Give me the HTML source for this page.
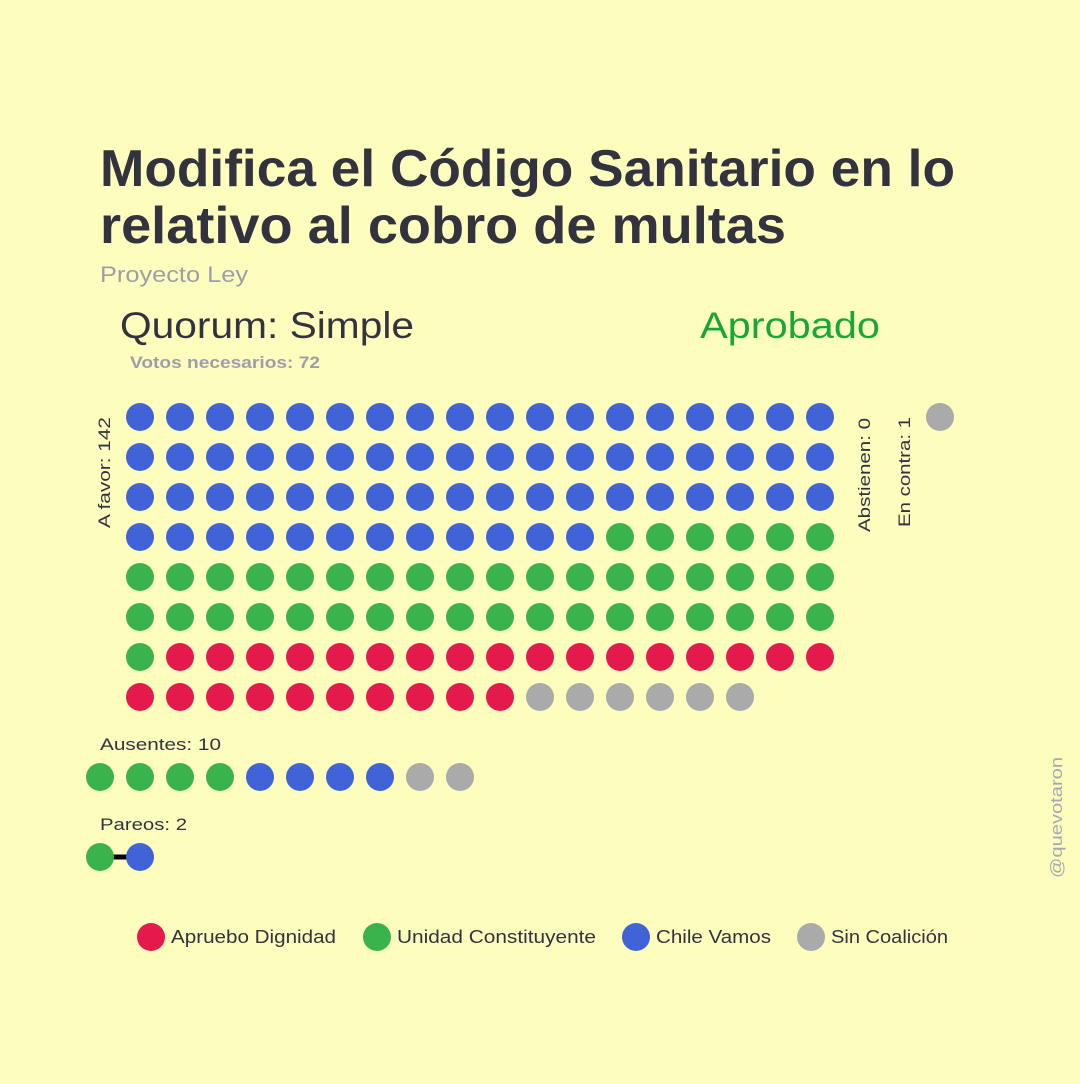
<!DOCTYPE html>
<html><head><meta charset="utf-8">
<style>
html,body{margin:0;padding:0;background:#fdfdbd;}
body{width:1080px;height:1079px;overflow:hidden;font-family:"Liberation Sans","DejaVu Sans",sans-serif;}
</style></head>
<body>
<svg id="chart" width="1080" height="1079" viewBox="0 0 1080 1079" xmlns="http://www.w3.org/2000/svg" font-family="Liberation Sans, DejaVu Sans, sans-serif">
<rect width="1080" height="1079" fill="#fdfdbd"/>
<text x="100" y="186" font-size="52" font-weight="bold" fill="#333340" textLength="855" lengthAdjust="spacingAndGlyphs">Modifica el Código Sanitario en lo</text>
<text x="100" y="243" font-size="52" font-weight="bold" fill="#333340" textLength="686" lengthAdjust="spacingAndGlyphs">relativo al cobro de multas</text>
<text x="100" y="282" font-size="22" fill="#9e9eab" textLength="148" lengthAdjust="spacingAndGlyphs">Proyecto Ley</text>
<text x="120" y="338" font-size="37" fill="#333340" textLength="294" lengthAdjust="spacingAndGlyphs">Quorum: Simple</text>
<text x="700" y="338" font-size="37" fill="#1aa637" textLength="180" lengthAdjust="spacingAndGlyphs">Aprobado</text>
<text x="130" y="368" font-size="17" font-weight="bold" fill="#9e9eab" textLength="190" lengthAdjust="spacingAndGlyphs">Votos necesarios: 72</text>
<text transform="translate(110,528) rotate(-90)" font-size="17" fill="#333340" textLength="111" lengthAdjust="spacingAndGlyphs">A favor: 142</text>
<text transform="translate(870,532) rotate(-90)" font-size="17" fill="#333340" textLength="114" lengthAdjust="spacingAndGlyphs">Abstienen: 0</text>
<text transform="translate(910,527) rotate(-90)" font-size="17" fill="#333340" textLength="110" lengthAdjust="spacingAndGlyphs">En contra: 1</text>
<text x="100" y="750" font-size="17" fill="#333340" textLength="121" lengthAdjust="spacingAndGlyphs">Ausentes: 10</text>
<text x="100" y="830" font-size="17" fill="#333340" textLength="87" lengthAdjust="spacingAndGlyphs">Pareos: 2</text>
<line x1="100" y1="857" x2="140" y2="857" stroke="#000" stroke-width="5"/>
<text transform="translate(1062,878) rotate(-90)" font-size="17" fill="#a8a8b0" textLength="121" lengthAdjust="spacingAndGlyphs">@quevotaron</text>
<g id="dots"></g>
<g id="legend"></g>
</svg>
<script>
const coalitions = ["Apruebo Dignidad","Unidad Constituyente","Chile Vamos","Sin Coalición"];
const colors = ["#e51a4c","#3ab34d","#4263d8","#aaaaaa"];
// drawing order of favor votes: Chile Vamos, Unidad Constituyente, Apruebo Dignidad, Sin Coalición
const favorOrder = [2,1,0,3];
const favorCounts = [66,43,27,6];
const againstOrder = [3];
const againstCounts = [1];
const absentOrder = [1,2,3];
const absentCounts = [4,4,2];
const pairOrder = [1,2];
const pairCounts = [1,1];

const NS="http://www.w3.org/2000/svg";
const g=document.getElementById('dots');
const R=14, STEP=40, COLS=18;
function expand(order,counts){const a=[];order.forEach((c,i)=>{for(let k=0;k<counts[i];k++)a.push(c);});return a;}
function dot(x,y,c,name){
  const e=document.createElementNS(NS,'circle');
  e.setAttribute('cx',x);e.setAttribute('cy',y);e.setAttribute('r',R);e.setAttribute('fill',colors[c]);
  
  
  g.appendChild(e);
}
expand(favorOrder,favorCounts).forEach((c,i)=>dot(140+(i%COLS)*STEP,417+Math.floor(i/COLS)*STEP,c,'favor-dot'));
expand(againstOrder,againstCounts).forEach((c,i)=>dot(940+i*STEP,417,c,'against-dot'));
expand(absentOrder,absentCounts).forEach((c,i)=>dot(100+i*STEP,777,c,'absent-dot'));
expand(pairOrder,pairCounts).forEach((c,i)=>dot(100+i*STEP,857,c,'pair-dot'));

const lg=document.getElementById('legend');
const lx=[151,377,636,811];
const lw=[165,199,115,117];
coalitions.forEach((n,i)=>{
  const c=document.createElementNS(NS,'circle');
  c.setAttribute('cx',lx[i]);c.setAttribute('cy',937);c.setAttribute('r',14);c.setAttribute('fill',colors[i]);
  
  
  lg.appendChild(c);
  const t=document.createElementNS(NS,'text');
  t.setAttribute('x',lx[i]+20);t.setAttribute('y',943);t.setAttribute('font-size','18');t.setAttribute('fill','#333340');
  t.setAttribute('textLength',lw[i]);t.setAttribute('lengthAdjust','spacingAndGlyphs');
  t.textContent=n;
  
  
  lg.appendChild(t);
});
</script>
</body></html>
